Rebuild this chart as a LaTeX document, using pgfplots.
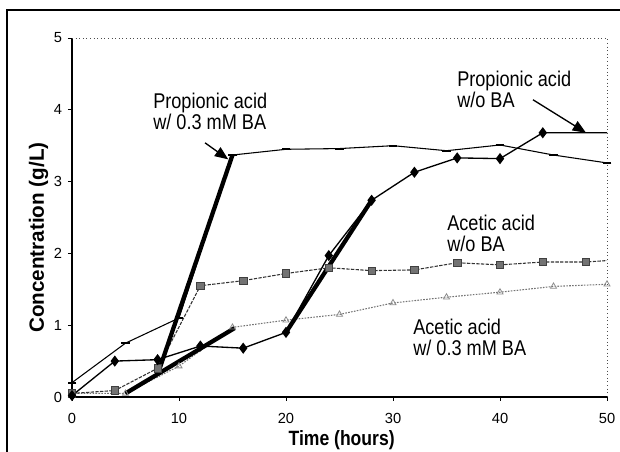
\documentclass[border=0pt]{standalone}
\usepackage{pgfplots}
\pgfplotsset{compat=1.18}
\usetikzlibrary{arrows.meta}
\usepackage{fontspec}
\setmainfont{Liberation Sans}[FakeStretch=0.85]
\newfontfamily\tickfont{Liberation Sans}
\newcommand\annot{\fontsize{16}{16}\selectfont}

\begin{document}
\begin{tikzpicture}
\begin{axis}[
    scale only axis,
    width=401.25pt, height=269.25pt,
    xmin=0, xmax=50, ymin=0, ymax=5,
    xtick={0,10,...,50}, ytick={0,1,...,5},
    axis x line*=bottom, axis y line*=left,
    axis line style={black, line width=0.9pt, -},
    tick align=outside, major tick length=3pt,
    tick style={black, line width=0.6pt},
    /pgf/number format/assume math mode=true,
    ticklabel style={font=\tickfont\fontsize{11}{13}\selectfont},
    xticklabel style={yshift=-6pt},
    yticklabel style={xshift=-1pt},
    xlabel={Time (hours)},
    ylabel={Concentration (g/L)},
    xlabel style={font=\bfseries\fontsize{15.5}{16}\selectfont,
        at={(axis description cs:0.504,-0.12)}, anchor=center},
    ylabel style={font=\tickfont\bfseries\fontsize{15.5}{16}\selectfont,
        at={(axis description cs:-0.0626,0.444)}, anchor=center, rotate=0},
    clip=false,
]
\draw[black!70, dotted, line width=0.7pt] (rel axis cs:0,1) -- (rel axis cs:1,1) -- (rel axis cs:1,0);
\coordinate (pa) at (rel axis cs:0,0);
\coordinate (pb) at (rel axis cs:1,1);

% acetic acid w/ 0.3 mM BA
\addplot[black!55, line width=0.8pt, dash pattern=on 1.2pt off 1pt,
    mark=triangle, mark size=2.6pt, mark options={solid, black!45, line width=0.6pt}]
    coordinates {(0,0.05) (5,0.05) (10,0.43) (15,0.97) (20,1.07) (25,1.15)
                 (30,1.31) (35,1.39) (40,1.46) (45,1.54) (50,1.57)};

% acetic acid w/o BA
\addplot[black!80, line width=0.8pt, dash pattern=on 2.5pt off 1pt,
    mark=square*, mark size=2.8pt, mark indices={1,...,13},
    mark options={solid, fill=black!55, draw=black!75, line width=0.5pt}]
    coordinates {(0,0.05) (4,0.09) (8,0.4) (12,1.55) (16,1.62) (20,1.72) (24,1.8)
                 (28,1.76) (32,1.77) (36,1.87) (40,1.84) (44,1.88) (48,1.88) (50,1.9)};

% propionic acid w/ 0.3 mM BA
\addplot[black, line width=0.8pt, mark=-, mark size=3.2pt,
    mark options={line width=1.6pt}]
    coordinates {(0,0.2) (5,0.75) (10,1.1) (15,3.37) (20,3.45) (25,3.46)
                 (30,3.5) (35,3.43) (40,3.51) (45,3.37) (50,3.26)};

% propionic acid w/o BA
\addplot[black, line width=1pt, mark=diamond*, mark size=3.4pt,
    mark indices={1,...,12}, mark options={fill=black}]
    coordinates {(0,0.02) (4,0.5) (8,0.52) (12,0.71) (16,0.68) (20,0.9) (24,1.97)
                 (28,2.74) (32,3.13) (36,3.33) (40,3.32) (44,3.68) (50,3.68)};

% thick segments
\addplot[black, line width=3.2pt, no marks] coordinates {(8.2,0.4) (15,3.37)};
\addplot[black, line width=3.2pt, no marks] coordinates {(5,0.05) (15.2,0.96)};
\addplot[black, line width=3.2pt, no marks] coordinates {(20,0.9) (28,2.74)};

% annotations
\node[anchor=west, align=left, inner sep=0pt, font=\annot] at (axis cs:7.57,3.98) {Propionic acid\\w/ 0.3 mM BA};
\node[anchor=west, align=left, inner sep=0pt, font=\annot] at (axis cs:35.98,4.28) {Propionic acid\\w/o BA};
\node[anchor=west, align=left, inner sep=0pt, font=\annot] at (axis cs:35.05,2.28) {Acetic acid\\w/o BA};
\node[anchor=west, align=left, inner sep=0pt, font=\annot] at (axis cs:31.87,0.83) {Acetic acid\\w/ 0.3 mM BA};
\draw[-{Triangle[length=10pt,width=8pt]}, line width=1pt] (axis cs:12.43,3.54) -- (axis cs:14.6,3.31);
\draw[-{Triangle[length=10pt,width=8pt]}, line width=1pt] (axis cs:43.08,4.14) -- (axis cs:48.04,3.68);
\end{axis}
\pgfresetboundingbox
\path[use as bounding box] ([shift={(-54pt,-41.25pt)}]pa) rectangle ([shift={(9.75pt,28.5pt)}]pb);
\draw[line width=0.9pt] ([shift={(-48.75pt,-80pt)}]pa) rectangle ([shift={(40pt,21pt)}]pb);
\end{tikzpicture}
\end{document}
